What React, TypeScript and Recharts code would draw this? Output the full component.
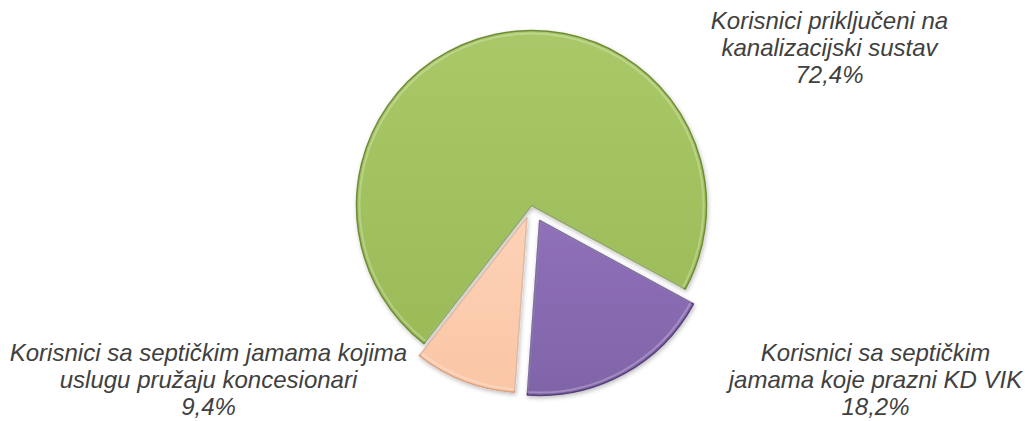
import React from "react";
import { PieChart, Pie, Cell, Sector } from "recharts";

const categories = [
  "Korisnici priključeni na\nkanalizacijski sustav",
  "Korisnici sa septičkim\njamama koje prazni KD VIK",
  "Korisnici sa septičkim jamama kojima\nuslugu pružaju koncesionari",
];
const values = [72.4, 18.2, 9.4];
const colors = ["#9FBF5C", "#8466AE", "#FCCBAD"];
const strokes = ["#6E8C35", "#54407A", "#D9A080"];
const explode = [0, 17, 13];
const labelOffsets = [
  { dx: 298, dy: -177 },
  { dx: 344, dy: 155 },
  { dx: -323, dy: 155 },
];

const data = categories.map((name, i) => ({ name, value: values[i], idx: i }));

const RAD = Math.PI / 180;

const renderShape = (props: any) => {
  const idx = props.payload?.idx ?? props.index ?? 0;
  const off = explode[idx] || 0;
  const mid = props.midAngle;
  const cx = props.cx + off * Math.cos(-mid * RAD);
  const cy = props.cy + off * Math.sin(-mid * RAD);
  return (
    <g filter="url(#shadow)">
      <Sector
        cx={cx}
        cy={cy}
        innerRadius={0}
        outerRadius={props.outerRadius}
        startAngle={props.startAngle}
        endAngle={props.endAngle}
        fill={`url(#grad${idx})`}
        stroke={strokes[idx]}
        strokeWidth={1.5}
        strokeLinejoin="round"
      />
      <Sector
        cx={cx}
        cy={cy}
        innerRadius={0}
        outerRadius={props.outerRadius - 3}
        startAngle={props.startAngle}
        endAngle={props.endAngle}
        fill="none"
        stroke="#ffffff"
        strokeOpacity={0.25}
        strokeWidth={2}
      />
    </g>
  );
};

const renderLabel = (props: any) => {
  const idx = props.payload?.idx ?? props.index ?? 0;
  const o = labelOffsets[idx];
  const x = props.cx + o.dx;
  const y = props.cy + o.dy;
  const lines = String(categories[idx]).split("\n");
  lines.push(values[idx].toFixed(1).replace(".", ",") + "%");
  const lh = 27;
  return (
    <text
      x={x}
      y={y}
      textAnchor="middle"
      fill="#404040"
      fontFamily="'Liberation Sans', Arial, sans-serif"
      fontStyle="italic"
      fontSize={24}
    >
      {lines.map((l, i) => (
        <tspan key={i} x={x} y={y + i * lh}>
          {l}
        </tspan>
      ))}
    </text>
  );
};

export default function App() {
  return (
    <div style={{ position: "absolute", left: 0, top: 0, background: "#fff" }}>
      <PieChart width={1033} height={421} margin={{ top: 0, right: 0, bottom: 0, left: 0 }}>
        <defs>
          <filter id="shadow" x="-20%" y="-20%" width="140%" height="140%">
            <feDropShadow dx="1" dy="2" stdDeviation="2" floodColor="#000" floodOpacity="0.25" />
          </filter>
          <linearGradient id="grad0" x1="0" y1="0" x2="0" y2="1">
            <stop offset="0%" stopColor="#A9C867" />
            <stop offset="100%" stopColor="#9BBB58" />
          </linearGradient>
          <linearGradient id="grad1" x1="0" y1="0" x2="0" y2="1">
            <stop offset="0%" stopColor="#8F70BA" />
            <stop offset="100%" stopColor="#8064A8" />
          </linearGradient>
          <linearGradient id="grad2" x1="0" y1="0" x2="0" y2="1">
            <stop offset="0%" stopColor="#FDD2B6" />
            <stop offset="100%" stopColor="#FAC6A6" />
          </linearGradient>
        </defs>
        <Pie
          data={data}
          dataKey="value"
          nameKey="name"
          cx={531.5}
          cy={205.5}
          outerRadius={175}
          startAngle={232.1}
          endAngle={-127.9}
          isAnimationActive={false}
          labelLine={false}
          label={renderLabel}
          shape={renderShape}
          inactiveShape={renderShape}
          activeShape={renderShape}
          stroke="none"
        >
          {data.map((d, i) => (
            <Cell key={i} fill={colors[i]} />
          ))}
        </Pie>
      </PieChart>
    </div>
  );
}
